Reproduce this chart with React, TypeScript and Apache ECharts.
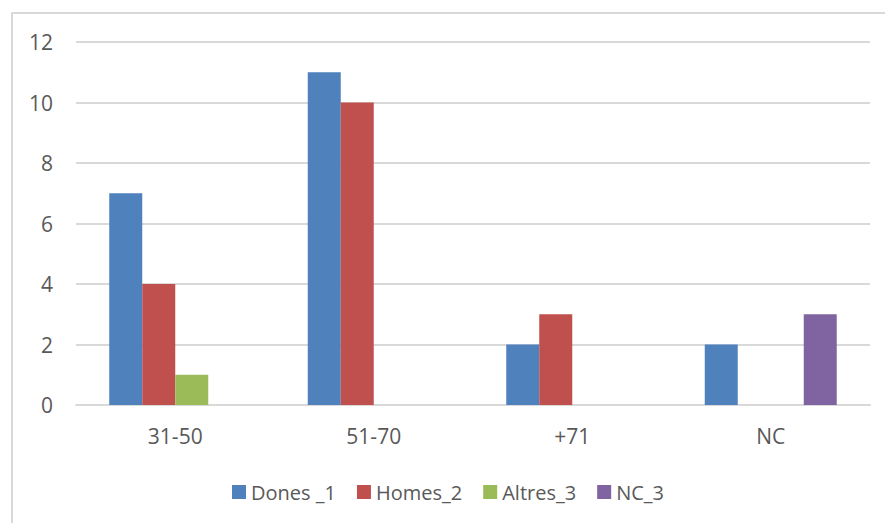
import React, { useEffect, useRef } from "react";
import * as echarts from "echarts";

const categories = ["31-50", "51-70", "+71", "NC"];
const seriesNames = ["Dones _1", "Homes_2", "Altres_3", "NC_3"];
const dones = [7, 11, 2, 2];
const homes = [4, 10, 3, 0];
const altres = [1, 0, 0, 0];
const nc = [0, 0, 0, 3];
const colors = ["#4F81BD", "#C0504D", "#9BBB59", "#8064A2"];

const FONT = "'Open Sans', 'Liberation Sans', Arial, sans-serif";
const TEXT = "#595959";

export default function App() {
  const ref = useRef<HTMLDivElement>(null);
  useEffect(() => {
    if (!ref.current) return;
    const chart = echarts.init(ref.current, undefined, { renderer: "svg" });
    const values = [dones, homes, altres, nc];
    chart.setOption({
      animation: false,
      backgroundColor: "#ffffff",
      textStyle: { fontFamily: FONT },
      graphic: [
        {
          type: "rect",
          shape: { x: 12, y: 13, width: 900, height: 600 },
          style: { fill: "none", stroke: "#d9d9d9", lineWidth: 2 },
          silent: true,
        },
      ],
      grid: { left: 76, right: 15, top: 42, bottom: 118, containLabel: false },
      legend: {
        left: 227,
        top: 477,
        itemWidth: 14,
        itemHeight: 14,
        itemGap: 21,
        icon: "rect",
        textStyle: { fontSize: 20, color: TEXT, fontFamily: FONT },
        data: seriesNames,
      },
      xAxis: {
        type: "category",
        data: categories,
        axisLine: { show: true, lineStyle: { color: "#d9d9d9", width: 2 } },
        axisTick: { show: false },
        axisLabel: { fontSize: 21, color: TEXT, margin: 20, fontFamily: FONT },
      },
      yAxis: {
        type: "value",
        min: 0,
        max: 12,
        interval: 2,
        axisLine: { show: false },
        axisTick: { show: false },
        splitLine: { lineStyle: { color: "#d9d9d9", width: 2 } },
        axisLabel: { fontSize: 21, color: TEXT, margin: 23, fontFamily: FONT },
      },
      series: seriesNames.map((name, i) => ({
        name,
        type: "bar",
        data: values[i],
        barGap: "0%",
        barCategoryGap: "33.5%",
        itemStyle: { color: colors[i] },
      })),
    });
    return () => chart.dispose();
  }, []);
  return (
    <div
      ref={ref}
      style={{ position: "fixed", left: 0, top: 0, width: 885, height: 523 }}
    />
  );
}
